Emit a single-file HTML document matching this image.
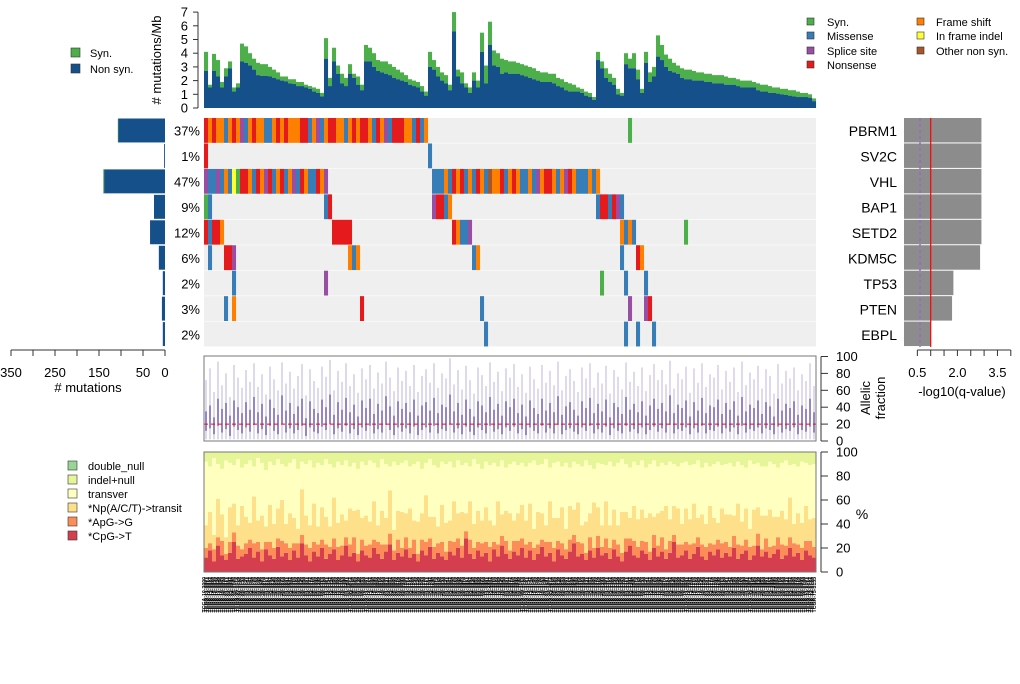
<!DOCTYPE html>
<html><head><meta charset="utf-8"><title>Mutation landscape</title>
<style>
html,body{margin:0;padding:0;background:#fff;}
svg{display:block;font-family:"Liberation Sans",sans-serif;}
</style></head>
<body>
<svg id="chart" width="1020" height="684" viewBox="0 0 1020 684" xmlns="http://www.w3.org/2000/svg">
<rect x="0" y="0" width="1020" height="684" fill="#fff"/>
<g id="tmb"></g>
<g id="matrix"></g>
<g id="leftbars"></g>
<g id="qpanel"></g>
<g id="af"></g>
<g id="spec"></g>
<g id="labels"></g>

<g font-size="11" fill="#000">
  <rect x="71" y="48" width="9" height="9" fill="#4daf4a" stroke="#333" stroke-width="0.6"/>
  <text x="90" y="57">Syn.</text>
  <rect x="71" y="64" width="9" height="9" fill="#15508a" stroke="#333" stroke-width="0.6"/>
  <text x="90" y="73">Non syn.</text>
</g>
<g font-size="11" fill="#000">
  <rect x="807" y="18" width="7" height="7" fill="#4daf4a" stroke="#333" stroke-width="0.6"/><text x="827" y="26">Syn.</text>
  <rect x="807" y="32" width="7" height="7" fill="#377eb8" stroke="#333" stroke-width="0.6"/><text x="827" y="40">Missense</text>
  <rect x="807" y="47" width="7" height="7" fill="#984ea3" stroke="#333" stroke-width="0.6"/><text x="827" y="55">Splice site</text>
  <rect x="807" y="61" width="7" height="7" fill="#e41a1c" stroke="#333" stroke-width="0.6"/><text x="827" y="69">Nonsense</text>
  <rect x="917" y="18" width="7" height="7" fill="#ff7f00" stroke="#333" stroke-width="0.6"/><text x="936" y="26">Frame shift</text>
  <rect x="917" y="32" width="7" height="7" fill="#ffff33" stroke="#333" stroke-width="0.6"/><text x="936" y="40">In frame indel</text>
  <rect x="917" y="47" width="7" height="7" fill="#a65628" stroke="#333" stroke-width="0.6"/><text x="936" y="55">Other non syn.</text>
</g>
<g font-size="11" fill="#000">
  <rect x="68" y="461" width="9" height="9" fill="#99d594" stroke="#333" stroke-width="0.6"/><text x="88" y="470">double_null</text>
  <rect x="68" y="475" width="9" height="9" fill="#e6f598" stroke="#333" stroke-width="0.6"/><text x="88" y="484">indel+null</text>
  <rect x="68" y="489" width="9" height="9" fill="#ffffbf" stroke="#333" stroke-width="0.6"/><text x="88" y="498">transver</text>
  <rect x="68" y="503" width="9" height="9" fill="#fee08b" stroke="#333" stroke-width="0.6"/><text x="88" y="512">*Np(A/C/T)-&gt;transit</text>
  <rect x="68" y="517" width="9" height="9" fill="#fc8d59" stroke="#333" stroke-width="0.6"/><text x="88" y="526">*ApG-&gt;G</text>
  <rect x="68" y="531" width="9" height="9" fill="#d53e4f" stroke="#333" stroke-width="0.6"/><text x="88" y="540">*CpG-&gt;T</text>
</g>
</svg>
<script>
// ---------- data ----------
const tmbTotal = [
4.1,1.7,3.95,3.5,1.9,2.9,3.4,1.5,1.8,4.7,
4.5,4.0,3.6,3.3,3.2,3.2,3.0,2.8,2.6,2.3,
2.3,2.1,2.1,1.9,1.9,1.7,1.6,1.5,1.4,1.1,
5.1,2.2,4.4,3.1,2.5,2.2,3.2,2.5,2.3,1.7,
4.6,4.4,4.0,3.5,3.4,3.4,3.2,3.0,2.8,2.6,
2.4,2.1,2.0,1.9,1.6,1.2,4.1,3.5,3.0,2.6,
2.4,1.7,7.0,2.8,2.6,1.8,1.5,2.6,2.0,5.5,
3.1,6.3,4.2,4.0,3.6,3.5,3.4,3.4,3.3,3.2,
3.1,3.0,2.9,2.7,2.6,2.6,2.5,2.5,2.2,2.1,
1.9,1.8,1.7,1.5,1.4,1.2,1.1,0.8,4.1,3.4,
2.9,2.5,2.2,1.4,1.1,4.0,3.6,4.0,2.8,1.4,
4.1,2.6,3.0,5.3,4.6,3.9,3.6,3.3,3.1,2.9,
2.8,2.8,2.7,2.6,2.6,2.5,2.5,2.4,2.4,2.4,
2.3,2.2,2.2,2.1,2.0,2.0,2.0,1.9,1.8,1.7,
1.7,1.6,1.5,1.5,1.4,1.4,1.3,1.3,1.2,1.1,
1.1,1.0,0.7];
const tmbNonSyn = [
2.7,1.5,2.7,2.3,1.5,2.3,2.9,1.2,1.5,3.4,
3.3,3.1,2.8,2.4,2.35,2.35,2.3,2.2,2.1,2.0,
1.95,1.8,1.75,1.6,1.6,1.5,1.4,1.2,1.1,0.85,
3.6,1.6,3.4,2.5,1.8,1.6,2.5,2.2,1.7,1.3,
3.4,3.4,3.0,2.7,2.6,2.5,2.4,2.2,2.1,2.0,
1.9,1.7,1.6,1.5,1.2,0.9,3.0,2.8,2.3,2.0,
1.8,1.3,5.6,2.3,1.8,1.5,1.1,2.0,1.5,4.1,
1.8,4.6,3.1,3.0,2.5,2.6,2.5,2.5,2.5,2.4,
2.3,2.2,2.1,2.0,1.9,1.9,1.9,1.8,1.6,1.5,
1.3,1.2,1.2,1.2,1.1,0.9,0.8,0.6,3.5,2.9,
2.2,1.9,1.7,1.0,0.9,3.2,2.9,2.9,2.1,1.1,
3.3,1.9,2.3,3.75,3.5,3.0,2.7,2.6,2.5,2.2,
2.1,2.1,2.0,2.0,2.0,1.9,1.9,1.8,1.8,1.8,
1.7,1.7,1.7,1.6,1.5,1.5,1.5,1.5,1.3,1.2,
1.2,1.1,1.1,1.05,1.0,0.95,0.9,0.85,0.8,0.8,
0.8,0.75,0.5];
const tmbTicks = [0,1,2,3,4,5,6,7];

const genes = ["PBRM1","SV2C","VHL","BAP1","SETD2","KDM5C","TP53","PTEN","EBPL"];
const genePct = ["37%","1%","47%","9%","12%","6%","2%","3%","2%"];
const geneCount = [107,2,140,25,34,14,5,7,5];
const geneSynCount = [1,0,2,0,0,0,0,0,0];
const qValues = [2.9,2.9,2.9,2.9,2.9,2.85,1.85,1.8,1.0];
const qTicks = [0.5,1.0,1.5,2.0,2.5,3.0,3.5,4.0];
const qTickLabels = ["0.5","2.0","3.5"];
const countTicks = [0,50,100,150,200,250,300,350];
const countTickLabels = [350,250,150,50,0];
// mutations: [startSample, typeCodes]  m=missense n=nonsense f=frameshift s=splice y=syn i=inframe o=other
const mutPBRM1 = [[0,"nfnffmfnfsmfnffmmfnfnfffnnmfsmfnnffmfnfnnfmnfsmnnnffmnmf"],[106,"y"]];
const mutSV2C = [[0,"n"],[56,"m"]];
const mutVHL = [[0,"smmsmfmiynnfmnfsnmfnmfsmnfmmnfs"],[57,"mmmfmnfnmfmnfmoffnmfnfmmfmsfnnfmfsnfmmmfmf"]];
const mutBAP1 = [[0,"ym"],[30,"mn"],[57,"snnmf"],[98,"mnnmnsm"]];
const mutSETD2 = [[0,"nmnnf"],[32,"nnnnn"],[62,"nfmms"],[104,"fmfm"],[120,"y"]];
const mutKDM5C = [[1,"m"],[5,"nns"],[36,"fmf"],[67,"mf"],[104,"m"],[108,"nf"]];
const mutTP53 = [[7,"m"],[30,"s"],[99,"y"],[105,"m"],[110,"m"]];
const mutPTEN = [[5,"m"],[7,"f"],[39,"n"],[69,"m"],[106,"s"],[110,"sn"]];
const mutEBPL = [[70,"m"],[105,"m"],[108,"m"],[112,"m"]];

const afHi = [
72,86,58,94,66,80,52,90,75,63, 84,70,92,64,79,55,88,73,60,93,
68,82,62,77,91,54,85,71,63,88, 76,96,60,83,70,92,65,79,57,86,
73,90,62,81,68,94,75,59,87,71, 83,65,90,58,77,85,69,92,63,80,
74,98,67,84,61,89,72,56,87,78, 65,93,70,82,59,86,75,91,64,79,
57,88,73,62,90,69,83,66,94,60, 77,85,71,58,87,74,92,63,81,68,
89,56,84,76,61,93,70,82,65,87, 59,78,91,72,84,67,95,62,80,73,
88,57,86,69,92,64,79,75,90,61, 83,70,87,58,94,66,81,73,89,62,
85,77,56,91,68,83,74,87,60,79, 71,92,65];
const afQ3 = [
35,42,28,50,38,45,30,48,40,33, 46,37,52,34,44,29,49,39,31,54,
36,45,32,41,50,27,47,38,33,49, 40,55,31,46,37,51,34,43,29,48,
39,50,32,44,36,53,41,30,47,38, 45,34,49,30,42,46,36,51,33,43,
40,55,35,45,31,49,38,29,47,42, 34,52,37,44,30,47,40,50,33,43,
29,48,39,32,50,36,45,34,53,31, 41,46,37,30,47,39,51,33,44,35,
49,28,45,40,32,52,37,44,34,47, 30,42,50,38,45,35,54,33,43,39,
48,29,46,36,51,33,42,40,49,32, 45,37,47,30,52,35,43,39,48,32,
46,41,29,50,36,44,39,47,31,42, 38,50,34];
const afQ1 = [
12,15,8,18,10,14,6,17,13,9, 16,11,19,9,14,7,18,12,8,20,
10,15,9,13,18,6,16,11,9,17, 13,20,8,15,11,18,9,14,7,16,
12,18,9,14,10,19,13,7,16,11, 15,9,17,7,13,16,10,18,9,14,
12,20,10,15,8,17,11,7,16,13, 9,18,11,14,8,16,12,17,9,14,
7,16,12,9,18,10,15,9,19,8, 13,15,11,8,16,12,18,9,14,10,
17,7,15,12,9,18,11,14,9,16, 8,13,17,11,15,10,19,9,14,12,
16,8,15,10,18,9,13,12,17,9, 15,11,16,8,18,10,14,12,16,9,
15,13,8,17,10,14,12,16,8,13, 11,17,10];
const afTicks = [0,20,40,60,80,100];
const afMedianLine = 20;

const specCpG = [
12,18,9,22,14,10,16,25,11,13, 15,20,12,17,9,19,14,11,21,13,
16,10,18,12,24,14,9,17,13,20, 11,15,19,10,14,22,13,16,9,18,
14,12,20,15,11,17,23,10,16,13, 19,12,15,9,18,14,21,11,16,13,
10,17,14,20,12,28,15,11,18,13, 16,9,19,13,22,15,11,17,14,20,
12,18,10,15,21,13,16,9,19,14, 11,17,24,13,15,10,18,12,20,14,
16,11,19,13,9,17,22,14,12,18, 15,10,20,13,17,11,16,25,12,14,
18,11,15,21,13,10,17,14,19,12, 16,13,20,11,15,18,10,14,22,13,
17,12,15,19,11,14,20,13,16,10, 18,14,12];
const specApG = [
8,6,10,7,12,5,9,8,11,6, 9,7,12,8,10,6,11,9,7,13,
8,10,6,12,7,9,11,8,10,7, 12,6,9,11,8,7,10,13,6,9,
8,11,7,10,12,6,9,8,11,7, 10,8,12,6,9,11,7,10,8,12,
7,9,11,8,10,6,12,9,7,11, 9,12,6,10,8,11,7,9,12,8,
11,7,10,8,6,12,9,11,7,10, 8,10,7,12,9,6,11,8,10,7,
12,9,8,10,7,11,6,12,9,8, 10,7,11,9,12,8,10,6,11,9,
7,12,9,8,10,11,7,9,8,12, 9,8,10,12,7,9,11,8,10,6,
11,9,7,10,12,8,9,11,7,10, 8,12,9];
const specNp = [
19,26,12,32,22,14,29,24,17,36, 22,14,39,18,28,13,31,20,25,34,
16,29,21,12,38,24,19,32,15,27, 23,17,34,20,26,14,30,22,37,18,
25,19,32,14,28,22,36,17,24,30, 20,33,16,27,22,39,18,25,14,31,
24,17,34,21,28,15,32,20,26,19, 29,22,14,36,18,25,31,17,23,28,
20,32,16,27,22,14,34,25,19,30, 17,28,21,33,15,26,20,38,24,18,
31,19,25,16,34,22,17,29,23,26, 20,32,15,27,22,36,18,24,30,17,
28,21,33,16,25,19,31,22,14,29, 23,27,17,34,20,26,15,30,22,28,
19,31,24,17,28,22,33,16,26,21, 29,18,24];
const specIndel = [
8,12,5,10,14,7,9,11,6,13, 10,7,12,5,9,15,8,11,6,10,
12,9,6,14,8,10,7,13,9,11, 6,10,13,8,11,7,12,9,14,8,
11,7,9,13,6,10,12,8,11,9, 7,12,10,8,14,9,6,11,13,8,
10,8,13,7,11,9,12,6,10,14, 8,11,9,12,7,13,10,8,11,9,
12,9,7,11,10,6,13,9,8,12, 9,13,8,10,12,7,11,14,9,10,
11,8,12,9,6,10,13,8,11,7, 13,10,7,12,9,11,8,10,12,9,
8,11,10,7,13,9,12,10,8,11, 10,9,12,8,11,13,7,10,9,12,
12,8,10,13,9,7,11,10,12,8, 9,11,10];
const specTicks = [0,20,40,60,80,100];

// ---------- layout / scales ----------
const NS = "http://www.w3.org/2000/svg";
const X0 = 204, X1 = 816;
const N = tmbTotal.length;
const SW = (X1 - X0) / N;
const sx = i => X0 + i * SW;
const tmbY = v => 108 - v * 13.7;
const ROW0 = 118, ROWH = 25.45;
const rowY = g => ROW0 + g * ROWH;
const cntX = v => 165 - v * 0.44;
const qX = v => 904 + v * 26.7;
const afY = v => 441 - v * 0.845;
const spY = v => 572 - v * 1.2;
const typeColor = {m:"#377eb8",n:"#e41a1c",f:"#ff7f00",s:"#984ea3",y:"#4daf4a",i:"#ffff33",o:"#a65628"};
const typeName = {m:"missense",n:"nonsense",f:"frame-shift",s:"splice-site",y:"syn",i:"in-frame-indel",o:"other-non-syn"};

function mk(tag, attrs, parent, text){
  const e = document.createElementNS(NS, tag);
  for (const k in attrs) e.setAttribute(k, attrs[k]);
  if (text !== undefined) e.textContent = text;
  parent.appendChild(e);
  return e;
}

// ---------- TMB panel ----------
const tmb = document.getElementById('tmb');
for (let i = 0; i < N; i++) {
  const syn = mk('rect', {x:sx(i), y:tmbY(tmbTotal[i]), width:SW+0.05, height:tmbY(tmbNonSyn[i]) - tmbY(tmbTotal[i]), fill:'#4daf4a'}, tmb);
  
  
  const ns = mk('rect', {x:sx(i), y:tmbY(tmbNonSyn[i]), width:SW+0.05, height:tmbY(0) - tmbY(tmbNonSyn[i]), fill:'#15508a'}, tmb);
  
  
}
const tmbAx = mk('line', {x1:198, x2:198, y1:tmbY(0), y2:tmbY(7), stroke:'#333', 'stroke-width':1}, tmb);


tmbTicks.forEach(t => {
  mk('line', {x1:193, x2:198, y1:tmbY(t), y2:tmbY(t), stroke:'#333'}, tmb);
  const tl = mk('text', {x:188, y:tmbY(t)+4.5, 'text-anchor':'end', 'font-size':13}, tmb, String(t));
  
  
});
const tmbTitle = mk('text', {x:0, y:0, transform:'translate(161,60) rotate(-90)', 'text-anchor':'middle', 'font-size':13}, tmb, '# mutations/Mb');



// ---------- mutation matrix ----------
const mat = document.getElementById('matrix');
const allMuts = [mutPBRM1, mutSV2C, mutVHL, mutBAP1, mutSETD2, mutKDM5C, mutTP53, mutPTEN, mutEBPL];
genes.forEach((g, gi) => {
  const bg = mk('rect', {x:X0, y:rowY(gi), width:X1-X0, height:ROWH-0.6, fill:'#efefef'}, mat);
  
  
  allMuts[gi].forEach(seg => {
    const start = seg[0], codes = seg[1];
    for (let k = 0; k < codes.length; k++) {
      const c = codes[k];
      const cell = mk('rect', {x:sx(start+k), y:rowY(gi), width:SW+0.05, height:ROWH-0.6, fill:typeColor[c]}, mat);
      
      
    }
  });
  const pl = mk('text', {x:200, y:rowY(gi)+ROWH/2+5, 'text-anchor':'end', 'font-size':13}, mat, genePct[gi]);
  
  
});

// ---------- left gene count bars ----------
const lb = document.getElementById('leftbars');
genes.forEach((g, gi) => {
  const b = mk('rect', {x:cntX(geneCount[gi]), y:rowY(gi)+0.5, width:cntX(0)-cntX(geneCount[gi]), height:ROWH-1.5, fill:'#15508a'}, lb);
  
  
  if (geneSynCount[gi] > 0) {
    const s = mk('rect', {x:cntX(geneCount[gi]), y:rowY(gi)+0.5, width:cntX(0)-cntX(geneSynCount[gi]), height:ROWH-1.5, fill:'#4daf4a'}, lb);
    
    
  }
});
const cax = mk('line', {x1:cntX(350), x2:cntX(0), y1:350, y2:350, stroke:'#333'}, lb);


countTicks.forEach(t => mk('line', {x1:cntX(t), x2:cntX(t), y1:350, y2:356, stroke:'#333'}, lb));
countTickLabels.forEach(t => {
  const l = mk('text', {x:cntX(t), y:377, 'text-anchor':'middle', 'font-size':13}, lb, String(t));
  
  
});
const ct = mk('text', {x:88, y:392, 'text-anchor':'middle', 'font-size':13}, lb, '# mutations');



// ---------- q-value panel ----------
const qp = document.getElementById('qpanel');
genes.forEach((g, gi) => {
  const b = mk('rect', {x:qX(0), y:rowY(gi), width:qX(qValues[gi])-qX(0), height:ROWH-1, fill:'#8c8c8c'}, qp);
  
  
  const gl = mk('text', {x:897, y:rowY(gi)+ROWH/2+5.5, 'text-anchor':'end', 'font-size':14}, qp, g);
  
  
});
const pline = mk('line', {x1:qX(0.6), x2:qX(0.6), y1:ROW0, y2:rowY(9), stroke:'#9966cc', 'stroke-width':1.5, 'stroke-dasharray':'3,3'}, qp);


const rline = mk('line', {x1:qX(1.0), x2:qX(1.0), y1:ROW0, y2:rowY(9), stroke:'#ff0000', 'stroke-width':1.2}, qp);


const qax = mk('line', {x1:qX(0.5), x2:qX(4.0), y1:350, y2:350, stroke:'#333'}, qp);


qTicks.forEach(t => mk('line', {x1:qX(t), x2:qX(t), y1:350, y2:356, stroke:'#333'}, qp));
qTickLabels.forEach(t => {
  const l = mk('text', {x:qX(parseFloat(t)), y:377, 'text-anchor':'middle', 'font-size':13}, qp, t);
  
  
});
const qt = mk('text', {x:962, y:396, 'text-anchor':'middle', 'font-size':13}, qp, '-log10(q-value)');



// ---------- allelic fraction ----------
const af = document.getElementById('af');
for (let i = 0; i < N && i < afHi.length; i++) {
  const cx = sx(i) + SW/2;
  const l = mk('line', {x1:cx, x2:cx, y1:afY(2), y2:afY(afHi[i]), stroke:'#c9c2e3', 'stroke-width':1.2}, af);
  
  
  const q = mk('line', {x1:cx, x2:cx, y1:afY(afQ1[i]), y2:afY(afQ3[i]), stroke:'#7d6bbd', 'stroke-width':1.6}, af);
  
  
}
const med = mk('line', {x1:X0, x2:X1, y1:afY(afMedianLine), y2:afY(afMedianLine), stroke:'#ff0000', 'stroke-width':1, 'stroke-dasharray':'4,3'}, af);


const afFrame = mk('rect', {x:X0, y:356, width:X1-X0, height:85, fill:'none', stroke:'#777', 'stroke-width':1}, af);


mk('line', {x1:821, x2:821, y1:afY(0), y2:afY(100), stroke:'#333'}, af);
afTicks.forEach(t => {
  mk('line', {x1:821, x2:828, y1:afY(t), y2:afY(t), stroke:'#333'}, af);
  const l = mk('text', {x:836, y:afY(t)+4.5, 'font-size':13}, af, String(t));
  
  
});
const at1 = mk('text', {x:0, y:0, transform:'translate(870,398) rotate(-90)', 'text-anchor':'middle', 'font-size':13}, af, 'Allelic');


const at2 = mk('text', {x:0, y:0, transform:'translate(885,398) rotate(-90)', 'text-anchor':'middle', 'font-size':13}, af, 'fraction');



// ---------- spectrum ----------
const sp = document.getElementById('spec');
for (let i = 0; i < N && i < specCpG.length; i++) {
  const a = specCpG[i], b = a + specApG[i], c = b + specNp[i];
  const segs = [
    [0, a, '#d53e4f', 'cpg'],
    [a, b, '#fc8d59', 'apg'],
    [b, c, '#fee08b', 'np-transit'],
    [c, 100-specIndel[i], '#ffffbf', 'transver'],
    [100-specIndel[i], 100, '#e6f598', 'indel-null']
  ];
  segs.forEach(s => {
    const r = mk('rect', {x:sx(i), y:spY(s[1]), width:SW+0.05, height:spY(s[0])-spY(s[1]), fill:s[2]}, sp);
    
    
  });
}
const spFrame = mk('rect', {x:X0, y:452, width:X1-X0, height:120, fill:'none', stroke:'#777', 'stroke-width':1}, sp);


mk('line', {x1:821, x2:821, y1:spY(0), y2:spY(100), stroke:'#333'}, sp);
specTicks.forEach(t => {
  mk('line', {x1:821, x2:828, y1:spY(t), y2:spY(t), stroke:'#333'}, sp);
  const l = mk('text', {x:836, y:spY(t)+4.5, 'font-size':13}, sp, String(t));
  
  
});
const pct = mk('text', {x:862, y:519, 'text-anchor':'middle', 'font-size':14}, sp, '%');



// ---------- sample labels ----------
const lab = document.getElementById('labels');
for (let i = 0; i < N; i++) {
  for (let k = 0; k < 2; k++) {
    const id = 'TCGA-' + String(10 + ((2*i+k) % 80)).padStart(2,'0') + '-' + String(3000 + (2*i+k)*7);
    const t = mk('text', {x:0, y:0, transform:'translate(' + (sx(i)+2+k*2) + ',577) rotate(-90)', 'text-anchor':'end', 'font-size':5.2, 'font-weight':'bold', fill:'#000'}, lab, id);
    
    
  }
}
</script>
</body></html>
